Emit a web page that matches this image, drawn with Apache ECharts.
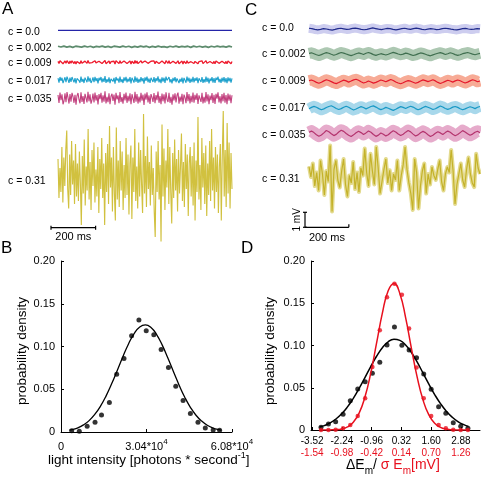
<!DOCTYPE html>
<html><head><meta charset="utf-8">
<script src="https://cdn.jsdelivr.net/npm/echarts@6/dist/echarts.min.js"></script>
<style>html,body{margin:0;padding:0;background:#fff}#c{width:481px;height:481px}</style>
</head><body><div id="c"></div>
<script>
// ================= DATA =================
const traceDurationMs = 780;
const concLabels = ['c = 0.0','c = 0.002','c = 0.009','c = 0.017','c = 0.035','c = 0.31'];

// Panel A: single-trial membrane potential traces (mV, relative)
const rawA_c000 = [0, 0, 0, 0];
const rawA_c002 = [0.03,-0.02,0.04,-0.03,0.02,-0.04,0.03,0.01,-0.03,0.04,
 -0.02,0.03,-0.04,0.02,-0.01,0.04,-0.03,0.02,-0.04,0.03,
 0.01,-0.03,0.04,-0.02,0.03,-0.04,0.02,-0.03,0.04,-0.01,
 0.03,-0.04,0.02,-0.03,0.04,-0.02,0.01,-0.04,0.03,-0.02,
 0.04,-0.03,0.02,-0.01,0.03,-0.04,0.04,-0.02,0.03,-0.03,
 0.02,-0.04,0.03,-0.02,0.04,-0.01,0.02,-0.03,0.04,-0.02];
const rawA_c009 = [0.06,-0.08,0.1,-0.03,0.07,-0.1,-0.04,0.09,-0.07,0.11,
 0.01,-0.09,0.08,-0.06,0.1,0.03,-0.08,0.06,-0.11,0.05,
 0.09,-0.02,-0.09,0.11,-0.06,0.04,-0.1,0.08,0.0,-0.07,
 0.12,-0.05,0.07,-0.1,-0.02,0.09,-0.07,0.1,-0.04,0.06,
 -0.11,0.07,-0.01,0.1,-0.08,0.05,-0.06,0.12,-0.09,0.03,
 -0.07,0.09,-0.1,0.04,0.08,-0.05,0.07,-0.12,0.1,-0.02,
 0.05,-0.09,0.11,-0.07,0.02,-0.1,0.08,-0.04,0.1,-0.08,
 0.04,-0.05,0.09,-0.11,0.07,0.0,-0.08,0.12,-0.06,0.08,
 -0.09,0.03,-0.07,0.1,-0.04,0.06,-0.12,0.09,-0.02,0.11,
 -0.07,0.05,-0.1,0.07,0.01,-0.06,0.09,-0.09,0.06,-0.03,
 0.12,-0.08,0.04,-0.1,0.08,-0.05,0.07,-0.09,0.11,-0.01,
 -0.07,0.1,-0.08,0.03,-0.11,0.07,-0.04,0.09,-0.07,0.05,
 0.1,-0.1,0.03,-0.06,0.08,-0.11,0.07,0.01,-0.09,0.11,
 -0.05,0.07,-0.09,0.04,-0.07,0.1,-0.08,0.06,-0.03,0.09,
 -0.1,0.05,0.08,-0.06,0.1,-0.09,0.02,-0.08,0.11,-0.06,
 0.07,-0.11,0.05,-0.03,0.09,-0.08,0.06,-0.1,0.08,0.0,
 0.11,-0.07,0.04,-0.09,0.07,-0.05,0.1,-0.08,0.06,-0.1,
 0.08,-0.04,0.07,-0.09,0.05];
const rawA_c017 = [0.12,-0.17,0.2,-0.06,0.15,-0.21,-0.09,0.18,-0.14,0.22,
 0.03,-0.19,0.16,-0.12,0.2,0.07,-0.16,0.13,-0.23,0.1,
 0.19,-0.04,-0.18,0.22,-0.13,0.08,-0.2,0.16,0.01,-0.15,
 0.25,-0.11,0.14,-0.2,-0.05,0.18,-0.15,0.21,-0.08,0.12,
 -0.22,0.15,-0.03,0.2,-0.16,0.11,-0.12,0.26,-0.19,0.06,
 -0.14,0.18,-0.21,0.08,0.17,-0.1,0.14,-0.24,0.2,-0.04,
 0.11,-0.18,0.23,-0.14,0.05,-0.2,0.17,-0.08,0.21,-0.16,
 0.09,-0.11,0.19,-0.22,0.15,0.0,-0.17,0.24,-0.12,0.16,
 -0.19,0.07,-0.15,0.2,-0.09,0.13,-0.25,0.18,-0.05,0.22,
 -0.15,0.1,-0.2,0.15,0.03,-0.13,0.19,-0.18,0.12,-0.07,
 0.25,-0.16,0.08,-0.21,0.17,-0.11,0.15,-0.19,0.22,-0.03,
 -0.14,0.2,-0.16,0.06,-0.23,0.14,-0.08,0.19,-0.15,0.11,
 0.21,-0.2,0.07,-0.13,0.16,-0.22,0.14,0.02,-0.18,0.23,
 -0.1,0.15,-0.19,0.09,-0.14,0.21,-0.16,0.13,-0.06,0.18,
 -0.21,0.11,0.16,-0.13,0.2,-0.19,0.05,-0.16,0.23,-0.12,
 0.15,-0.22,0.1,-0.07,0.19,-0.17,0.13,-0.2,0.16,-0.01,
 0.22,-0.15,0.08,-0.19,0.15,-0.11,0.2,-0.16,0.12,-0.21,
 0.17,-0.09,0.14,-0.18,0.11];
const rawA_c035 = [0.22,-0.31,0.38,-0.12,0.27,-0.4,-0.18,0.33,-0.26,0.41,
 0.05,-0.35,0.29,-0.22,0.36,0.12,-0.3,0.24,-0.42,0.18,
 0.35,-0.08,-0.33,0.4,-0.24,0.15,-0.37,0.3,0.02,-0.28,
 0.44,-0.2,0.26,-0.36,-0.1,0.32,-0.27,0.39,-0.15,0.21,
 -0.41,0.28,-0.05,0.37,-0.3,0.2,-0.22,0.46,-0.34,0.1,
 -0.26,0.33,-0.39,0.14,0.3,-0.18,0.25,-0.43,0.36,-0.07,
 0.2,-0.32,0.42,-0.25,0.08,-0.36,0.3,-0.14,0.38,-0.3,
 0.16,-0.2,0.34,-0.4,0.27,0.0,-0.31,0.43,-0.22,0.29,
 -0.35,0.12,-0.27,0.36,-0.16,0.24,-0.44,0.32,-0.09,0.4,
 -0.28,0.19,-0.37,0.28,0.06,-0.24,0.35,-0.33,0.22,-0.12,
 0.45,-0.3,0.15,-0.39,0.31,-0.2,0.27,-0.34,0.4,-0.06,
 -0.25,0.37,-0.3,0.1,-0.42,0.26,-0.15,0.34,-0.28,0.2,
 0.38,-0.36,0.12,-0.23,0.3,-0.4,0.25,0.04,-0.32,0.41,
 -0.19,0.28,-0.35,0.17,-0.26,0.39,-0.3,0.23,-0.11,0.33,
 -0.38,0.2,0.3,-0.24,0.36,-0.34,0.09,-0.29,0.42,-0.21,
 0.27,-0.4,0.18,-0.13,0.35,-0.31,0.24,-0.37,0.3,-0.02,
 0.4,-0.27,0.14,-0.35,0.28,-0.2,0.37,-0.3,0.22,-0.39,
 0.31,-0.16,0.25,-0.33,0.2];
const rawA_c310 = [1.2,-1.4,0.6,-1.0,2.0,-1.7,1.3,-0.6,1.8,3.1,
 -0.8,-2.1,1.5,-1.2,2.4,-0.5,1.1,-1.8,2.2,-1.3,
 0.9,-1.6,1.7,-0.4,-3.2,1.4,-1.1,2.5,-1.9,0.7,
 -0.9,3.2,-1.5,1.0,-2.2,1.8,-0.6,2.3,-1.7,0.5,
 -1.3,2.0,-2.4,1.2,-0.8,2.6,-1.4,0.9,-3.2,1.6,
 -1.0,2.2,-1.8,3.4,-0.7,1.3,-2.3,2.0,-1.1,-2.9,
 3.3,-1.5,1.1,-2.0,2.4,-0.9,1.7,-2.2,0.8,-1.4,
 2.6,-1.2,1.5,-2.5,0.9,2.1,-2.8,1.3,-1.0,3.2,
 -1.6,0.7,-2.1,2.3,-1.3,1.8,-0.5,-2.4,4.2,-1.1,
 1.4,-2.0,2.7,-0.8,1.0,-1.9,2.1,-1.2,0.6,-2.3,
 -4.0,1.7,-1.0,2.4,-1.5,0.8,-4.3,3.5,-1.3,1.9,
 -2.2,1.1,-0.7,3.2,-1.8,2.0,-1.0,-3.1,1.6,-1.4,
 2.5,-0.9,1.2,-2.3,1.8,-1.1,0.7,2.9,-1.6,1.0,
 -2.0,2.2,-0.8,1.5,-2.6,0.9,2.0,-1.3,1.4,-1.9,
 2.3,-2.9,1.1,-1.0,4.0,-1.5,0.8,-2.2,2.6,-0.7,
 1.6,-1.8,2.1,-2.6,0.9,-1.2,2.4,-1.6,3.2,-0.9,
 1.3,-2.1,2.0,-1.0,1.5,-2.4,0.7,2.2,-2.9,1.4,
 4.4,-1.3,1.8,-2.0,3.6,-1.1,2.3,-2.1,1.6,-0.8];

// Panel C: averaged traces (mV, relative)
const meanC_c000 = [0.05,0.02,-0.03,-0.06,-0.02,0.03,0.0,-0.04,-0.07,-0.03,0.02,0.05,0.01,-0.03,-0.01,0.04,0.06,0.02,-0.02,-0.05,-0.02,0.03,0.07,0.03,-0.01,-0.04,0.0,0.04,0.02,-0.03,-0.06,-0.02,0.02,0.05,0.01,-0.02,0.03,0.06,0.02,-0.03,-0.05,-0.01,0.03,0.0,-0.04,-0.02,0.02,0.05,0.03,-0.01,-0.04,-0.06,-0.02,0.02,0.04,0.0,-0.03,-0.01,0.03,0.01];
const meanC_c002 = [0.04,0.08,0.02,-0.05,-0.1,-0.04,0.03,0.09,0.05,-0.02,-0.08,-0.03,0.04,0.1,0.06,0.0,-0.06,-0.11,-0.05,0.02,0.07,0.03,-0.03,0.05,0.1,0.04,-0.04,-0.09,-0.03,0.02,-0.02,-0.07,-0.02,0.05,0.11,0.06,0.0,-0.05,-0.01,0.06,0.02,-0.04,-0.1,-0.06,0.01,0.07,0.04,-0.02,-0.08,-0.12,-0.06,0.0,0.05,0.09,0.04,-0.03,0.02,0.08,0.03,-0.04,-0.09,-0.05,0.02,0.06,0.1,0.05,-0.01,-0.05,0.0,0.04];
const meanC_c009 = [0.06,0.1,0.03,-0.06,-0.12,-0.05,0.04,0.12,0.07,-0.01,-0.09,-0.14,-0.07,0.02,0.09,0.04,-0.04,0.03,0.11,0.15,0.08,-0.02,-0.1,-0.05,0.03,-0.03,-0.11,-0.06,0.02,0.1,0.05,-0.02,0.06,0.13,0.07,-0.03,-0.1,-0.15,-0.08,0.0,0.06,0.02,-0.05,-0.12,-0.06,0.03,0.11,0.06,-0.01,0.05,0.12,0.04,-0.06,-0.13,-0.07,0.01,0.08,0.03,-0.04,0.04,0.1,0.05,-0.03,-0.1,-0.04,0.04,0.12,0.07,-0.02,0.03];
const meanC_c017 = [-0.05,0.04,0.11,0.05,-0.04,-0.12,-0.06,0.03,0.1,0.15,0.07,-0.03,-0.1,-0.04,0.05,0.12,0.05,-0.05,-0.13,-0.07,0.02,0.09,0.03,-0.06,0.02,0.1,0.14,0.06,-0.04,-0.11,-0.05,0.04,-0.02,-0.09,-0.16,-0.08,0.01,0.09,0.04,-0.03,0.05,0.12,0.06,-0.04,-0.12,-0.06,0.03,0.11,0.05,-0.02,-0.1,-0.05,0.04,0.13,0.07,-0.03,-0.09,-0.03,0.06,0.1,0.04,-0.05,-0.12,-0.06,0.02,0.08,0.03,-0.04,0.05,0.1];
const meanC_c035 = [0.08,0.16,0.06,-0.08,-0.18,-0.1,0.04,0.2,0.12,-0.02,-0.14,-0.06,0.1,0.22,0.14,0.0,-0.12,-0.2,-0.09,0.05,0.15,0.06,-0.06,0.04,0.17,0.08,-0.07,-0.19,-0.11,0.03,-0.05,-0.16,-0.08,0.07,0.18,0.1,-0.03,-0.13,-0.05,0.09,0.2,0.11,-0.04,-0.17,-0.09,0.05,0.14,0.06,-0.08,-0.2,-0.12,0.02,0.12,0.04,-0.07,0.06,0.16,0.08,-0.05,-0.15,-0.07,0.06,0.19,0.1,-0.02,-0.12,-0.04,0.08,0.15,0.05];
const meanC_c310 = [0.7,0.0,0.9,-0.6,0.3,-0.9,1.1,0.2,-1.2,0.4,
 -0.3,2.1,-2.3,0.5,1.1,-0.2,-0.7,0.4,1.2,-0.5,
 -1.3,0.1,-0.4,1.0,-0.8,0.3,-1.0,0.6,0.1,1.9,
 0.3,-0.6,1.55,0.4,-0.5,2.0,0.6,-1.1,-0.3,0.5,
 1.2,-0.4,0.45,-0.9,0.2,-0.2,1.1,-0.9,0.1,0.8,
 2.0,0.5,-0.4,-1.1,-2.2,1.2,0.3,-2.1,-0.6,0.4,
 0.9,-1.1,0.2,-0.5,0.67,0.1,-0.2,0.5,1.1,-0.3,
 -0.9,0.2,0.67,0.3,1.8,0.4,-1.8,-0.5,0.2,0.9,
 -0.2,-0.67,0.5,1.3,0.2,-0.4,-0.67,1.55,0.6,0.2];

// Panel B: light-intensity histogram and fit
const histIntensityX = [3800,6500,9300,12100,14400,17200,19800,22400,25100,27700,30300,33000,35600,38200,40800,43400,46000,48700,51300,54100,56400];
const histIntensityY = [0.0016,0.0008,0.0066,0.0113,0.0199,0.0344,0.0676,0.0859,0.1125,0.1309,0.1184,0.1137,0.0965,0.0754,0.0535,0.0367,0.0215,0.0113,0.0047,0.0023,0.0020];
const fitIntensityX = [3000,4000,6000,8000,10000,12000,14000,16000,18000,20000,22000,24000,26000,28000,30000,32000,34000,36000,38000,40000,42000,44000,46000,48000,50000,52000,54000,56000,57000];
const fitIntensityY = [0.0021,0.0028,0.0049,0.0083,0.0133,0.0205,0.0300,0.0420,0.0563,0.0720,0.0881,0.1030,0.1151,0.1229,0.1254,0.1223,0.1140,0.1016,0.0865,0.0704,0.0548,0.0407,0.0289,0.0196,0.0128,0.0079,0.0047,0.0027,0.0020];

// Panel D: normalized membrane-potential histograms and fits
const histNormX = [-3.14,-2.82,-2.51,-2.19,-1.88,-1.56,-1.24,-0.93,-0.61,-0.30,0.02,0.34,0.65,0.97,1.28,1.60,1.92,2.23,2.55,2.87,3.18];
const histNormBlackY = [0.0032,0.0071,0.0099,0.0185,0.0347,0.0485,0.0572,0.0671,0.0801,0.1006,0.1219,0.1002,0.0947,0.0856,0.0663,0.0481,0.0276,0.0197,0.0087,0.0043,0.0022];
const histNormRedY = [0,0,0.0004,0.0022,0.0059,0.0166,0.0375,0.0746,0.118,0.157,0.173,0.160,0.120,0.074,0.0375,0.0166,0.0059,0.0022,0.0004,0,0];
const fitNormX = [-3.2,-3.0,-2.75,-2.5,-2.25,-2.0,-1.75,-1.5,-1.25,-1.0,-0.75,-0.5,-0.25,0,0.25,0.5,0.75,1.0,1.25,1.5,1.75,2.0,2.25,2.5,2.75,3.0,3.2];
const fitNormBlackY = [0.0035,0.0052,0.0084,0.0130,0.0192,0.0274,0.0375,0.0492,0.0621,0.0751,0.0873,0.0974,0.1044,0.1074,0.1061,0.1007,0.0917,0.0802,0.0673,0.0543,0.0420,0.0312,0.0223,0.0153,0.0100,0.0063,0.0043];
const fitNormRedY = [0,0,0.0001,0.0004,0.0013,0.0036,0.0091,0.0200,0.0390,0.0673,0.1027,0.1383,0.1648,0.1735,0.1616,0.1330,0.0967,0.0622,0.0354,0.0178,0.0079,0.0031,0.0011,0.0003,0.0001,0,0];

// Tick labels
const probTickValues = [0,0.05,0.1,0.15,0.2];
const probTickLabels = ['0','0.05','0.10','0.15','0.20'];
const bTickValues = [0,30400,60800];
const bTickBase = ['0','3.04*10','6.08*10'];
const bTickExp = ['','4','4'];
const dTickValues = [-3.52,-2.24,-0.96,0.32,1.60,2.88];
const dTickLabelsBlack = ['-3.52','-2.24','-0.96','0.32','1.60','2.88'];
const dTickLabelsRed = ['-1.54','-0.98','-0.42','0.14','0.70','1.26'];

// ================= LAYOUT / STYLE =================
const FONT = '"Liberation Sans", Arial, Helvetica, sans-serif';
const PX_PER_MV = 15;
const RED = '#e8101e';
const panelA = {left:58, width:174, centers:[30.3,46.7,62.3,80,98.3,177], half:[6,6,6,7,10,72],
  colors:['#2424a8','#5e8c6e','#ee1c2e','#1ca0cc','#c2417f','#d1c13f'], widths:[1.3,1.8,1.3,1.1,1.1,1.15],
  labelX:8, labelY:[32,48.3,63.3,80.7,99.3,180.7]};
const panelC = {left:309, width:171, centers:[29,54,81.5,108,133.5,177], half:[10,10,10,10,12,40],
  colors:['#1f2a8c','#3f6e4f','#e5172b','#1798c5','#b4346e','#c4b22a'],
  bands:['#cdcdef','#adc8b2','#f7ab96','#a8d8eb','#e6abcb','#e3da8e'], bandW:[9,11,11,11,12,4],
  labelX:262, labelY:[28,54,81,108,135,179]};
const rawA = [rawA_c000,rawA_c002,rawA_c009,rawA_c017,rawA_c035,rawA_c310];
const meanC = [meanC_c000,meanC_c002,meanC_c009,meanC_c017,meanC_c035,meanC_c310];

const grids=[], xAxes=[], yAxes=[], series=[], graphics=[];
function addTraceGrid(left,width,center,half){
  const i = grids.length;
  grids.push({left:left, top:center-half, width:width, height:2*half});
  xAxes.push({gridIndex:i, type:'value', min:0, max:traceDurationMs, show:false});
  yAxes.push({gridIndex:i, type:'value', min:-half/PX_PER_MV, max:half/PX_PER_MV, show:false});
  return i;
}
function toPairs(values){ const n=values.length; return values.map((v,k)=>[k*traceDurationMs/(n-1), v]); }
function txt(x,y,text,opt){
  opt = opt||{};
  return {type:'text', x:x, y:y, rotation:opt.rotation||0, silent:true,
    style:Object.assign({text:text, fontFamily:FONT, fontSize:opt.size||11, fill:opt.color||'#000',
      align:opt.align||'left', verticalAlign:'middle'}, opt.style||{})};
}
function line(x1,y1,x2,y2){ return {type:'line', silent:true, shape:{x1,y1,x2,y2}, style:{stroke:'#000', lineWidth:1.2}}; }

// Panel A
rawA.forEach((vals,k)=>{
  const i = addTraceGrid(panelA.left, panelA.width, panelA.centers[k], panelA.half[k]);
  series.push({type:'line', xAxisIndex:i, yAxisIndex:i, data:toPairs(vals), symbol:'none', clip:false,
    lineStyle:{color:panelA.colors[k], width:panelA.widths[k]}, animation:false});
  graphics.push(txt(panelA.labelX, panelA.labelY[k], concLabels[k], {size:10.5}));
});
// Panel C
meanC.forEach((vals,k)=>{
  const i = addTraceGrid(panelC.left, panelC.width, panelC.centers[k], panelC.half[k]);
  series.push({type:'line', xAxisIndex:i, yAxisIndex:i, data:toPairs(vals), symbol:'none', clip:false,
    lineStyle:{color:panelC.bands[k], width:panelC.bandW[k], cap:'butt', join:'round'}, animation:false});
  series.push({type:'line', xAxisIndex:i, yAxisIndex:i, data:toPairs(vals), symbol:'none', clip:false,
    lineStyle:{color:panelC.colors[k], width:1.2}, animation:false});
  graphics.push(txt(panelC.labelX, panelC.labelY[k], concLabels[k], {size:10.5}));
});

// Common axis styles
const axisLine = {onZero:false, lineStyle:{color:'#000', width:1}};
const axisTick = {inside:true, length:3, lineStyle:{color:'#000'}};
function probYAxis(gi){
  return {gridIndex:gi, type:'value', min:0, max:0.2, interval:0.05,
    axisLine:Object.assign({show:true},axisLine), axisTick:axisTick, splitLine:{show:false},
    axisLabel:{color:'#000', fontFamily:FONT, fontSize:11, margin:6,
      formatter:v=>{const k=probTickValues.findIndex(t=>Math.abs(t-v)<1e-9); return k>=0?probTickLabels[k]:'';}}};
}

// Panel B
const gB = grids.length;
grids.push({left:61, top:261, width:171, height:171});
xAxes.push({gridIndex:gB, type:'value', min:0, max:60800, interval:30400,
  axisLine:axisLine, axisTick:axisTick, splitLine:{show:false},
  axisLabel:{color:'#000', fontFamily:FONT, margin:6, showMinLabel:true, showMaxLabel:true, hideOverlap:false,
    formatter:v=>{const k=bTickValues.findIndex(t=>Math.abs(t-v)<1e-6); if(k<0) return '';
      return bTickExp[k] ? '{n|'+bTickBase[k]+'}{s|'+bTickExp[k]+'}' : '{n|'+bTickBase[k]+'}';},
    rich:{n:{fontSize:11, fontFamily:FONT, color:'#000', lineHeight:14, verticalAlign:'bottom'},
          s:{fontSize:8, fontFamily:FONT, color:'#000', lineHeight:14, verticalAlign:'top'}}}});
yAxes.push(probYAxis(gB));
series.push({type:'line', xAxisIndex:gB, yAxisIndex:gB, data:fitIntensityX.map((x,k)=>[x,fitIntensityY[k]]),
  smooth:true, symbol:'none', lineStyle:{color:'#000', width:1.3}, animation:false});
series.push({type:'scatter', xAxisIndex:gB, yAxisIndex:gB, data:histIntensityX.map((x,k)=>[x,histIntensityY[k]]),
  symbolSize:5, itemStyle:{color:'#000'}, animation:false});

// Panel D
const gD = grids.length;
grids.push({left:311, top:261, width:169, height:169});
xAxes.push({gridIndex:gD, type:'value', min:-3.57, max:3.70,
  axisLine:axisLine, axisTick:Object.assign({customValues:dTickValues},axisTick), splitLine:{show:false},
  axisLabel:{customValues:dTickValues, margin:5, hideOverlap:false,
    formatter:v=>{const k=dTickValues.findIndex(t=>Math.abs(t-v)<1e-6); if(k<0) return '';
      return '{k|'+dTickLabelsBlack[k]+'}\n{r|'+dTickLabelsRed[k]+'}';},
    rich:{k:{fontSize:10, fontFamily:FONT, color:'#000', lineHeight:12},
          r:{fontSize:10, fontFamily:FONT, color:RED, lineHeight:12}}}});
yAxes.push(probYAxis(gD));
series.push({type:'line', xAxisIndex:gD, yAxisIndex:gD, data:fitNormX.map((x,k)=>[x,fitNormBlackY[k]]),
  smooth:true, symbol:'none', lineStyle:{color:'#000', width:1.5}, animation:false});
series.push({type:'line', xAxisIndex:gD, yAxisIndex:gD, data:fitNormX.map((x,k)=>[x,fitNormRedY[k]]),
  smooth:true, symbol:'none', lineStyle:{color:RED, width:1.5}, animation:false});
series.push({type:'scatter', xAxisIndex:gD, yAxisIndex:gD, data:histNormX.map((x,k)=>[x,histNormBlackY[k]]),
  symbolSize:5, itemStyle:{color:'#000'}, animation:false});
series.push({type:'scatter', xAxisIndex:gD, yAxisIndex:gD, data:histNormX.map((x,k)=>[x,histNormRedY[k]]),
  symbolSize:4.5, itemStyle:{color:RED}, animation:false});

// Panel letters
graphics.push(txt(2,9,'A',{size:17}), txt(245,10,'C',{size:17}), txt(1,248.5,'B',{size:17}), txt(241,248.5,'D',{size:17}));

// Scale bars
const barA = 200*panelA.width/traceDurationMs, barC = 200*panelC.width/traceDurationMs;
graphics.push(line(51,227.7,51+barA,227.7), line(51,225.7,51,229.7), line(51+barA,225.7,51+barA,229.7));
graphics.push(txt(51+barA/2,237,'200 ms',{size:11,align:'center'}));
const cy0 = 227.3, cx0 = 305;
graphics.push(line(cx0,cy0,cx0+barC,cy0), line(cx0+barC,cy0-3,cx0+barC,cy0),
  line(cx0,cy0-PX_PER_MV,cx0,cy0), line(cx0-2,cy0-PX_PER_MV,cx0+2,cy0-PX_PER_MV), line(cx0-2,cy0,cx0+2,cy0));
graphics.push(txt(cx0+barC/2,237.7,'200 ms',{size:11,align:'center'}));
graphics.push(txt(297,cy0-PX_PER_MV/2,'1 mV',{size:10,align:'center',rotation:Math.PI/2}));

// Axis titles
graphics.push(txt(22.5,351,'probability density',{size:13.5,align:'center',rotation:Math.PI/2}));
graphics.push(txt(270,351,'probability density',{size:13.5,align:'center',rotation:Math.PI/2}));
graphics.push({type:'text', x:48, y:459, silent:true, style:{
  text:'{n|light intensity [photons * second}{s|-1}{n|]}', verticalAlign:'middle',
  rich:{n:{fontSize:13.5, fontFamily:FONT, fill:'#000', lineHeight:16, verticalAlign:'bottom'},
        s:{fontSize:9, fontFamily:FONT, fill:'#000', lineHeight:16, verticalAlign:'top'}}}});
graphics.push({type:'text', x:346, y:467, silent:true, style:{
  text:'{b|\u0394E}{bs|m}{b|/ }{r|\u03c3 E}{rs|m}{r|[mV]}', verticalAlign:'middle',
  rich:{b:{fontSize:14, fontFamily:FONT, fill:'#000', lineHeight:18, verticalAlign:'top'},
        bs:{fontSize:10, fontFamily:FONT, fill:'#000', lineHeight:18, verticalAlign:'bottom'},
        r:{fontSize:14, fontFamily:FONT, fill:RED, lineHeight:18, verticalAlign:'top'},
        rs:{fontSize:10, fontFamily:FONT, fill:RED, lineHeight:18, verticalAlign:'bottom'}}}});

const chart = echarts.init(document.getElementById('c'), null, {renderer:'canvas', width:481, height:481});
chart.setOption({animation:false, backgroundColor:'#fff', grid:grids, xAxis:xAxes, yAxis:yAxes, series:series, graphic:graphics});
</script></body></html>
